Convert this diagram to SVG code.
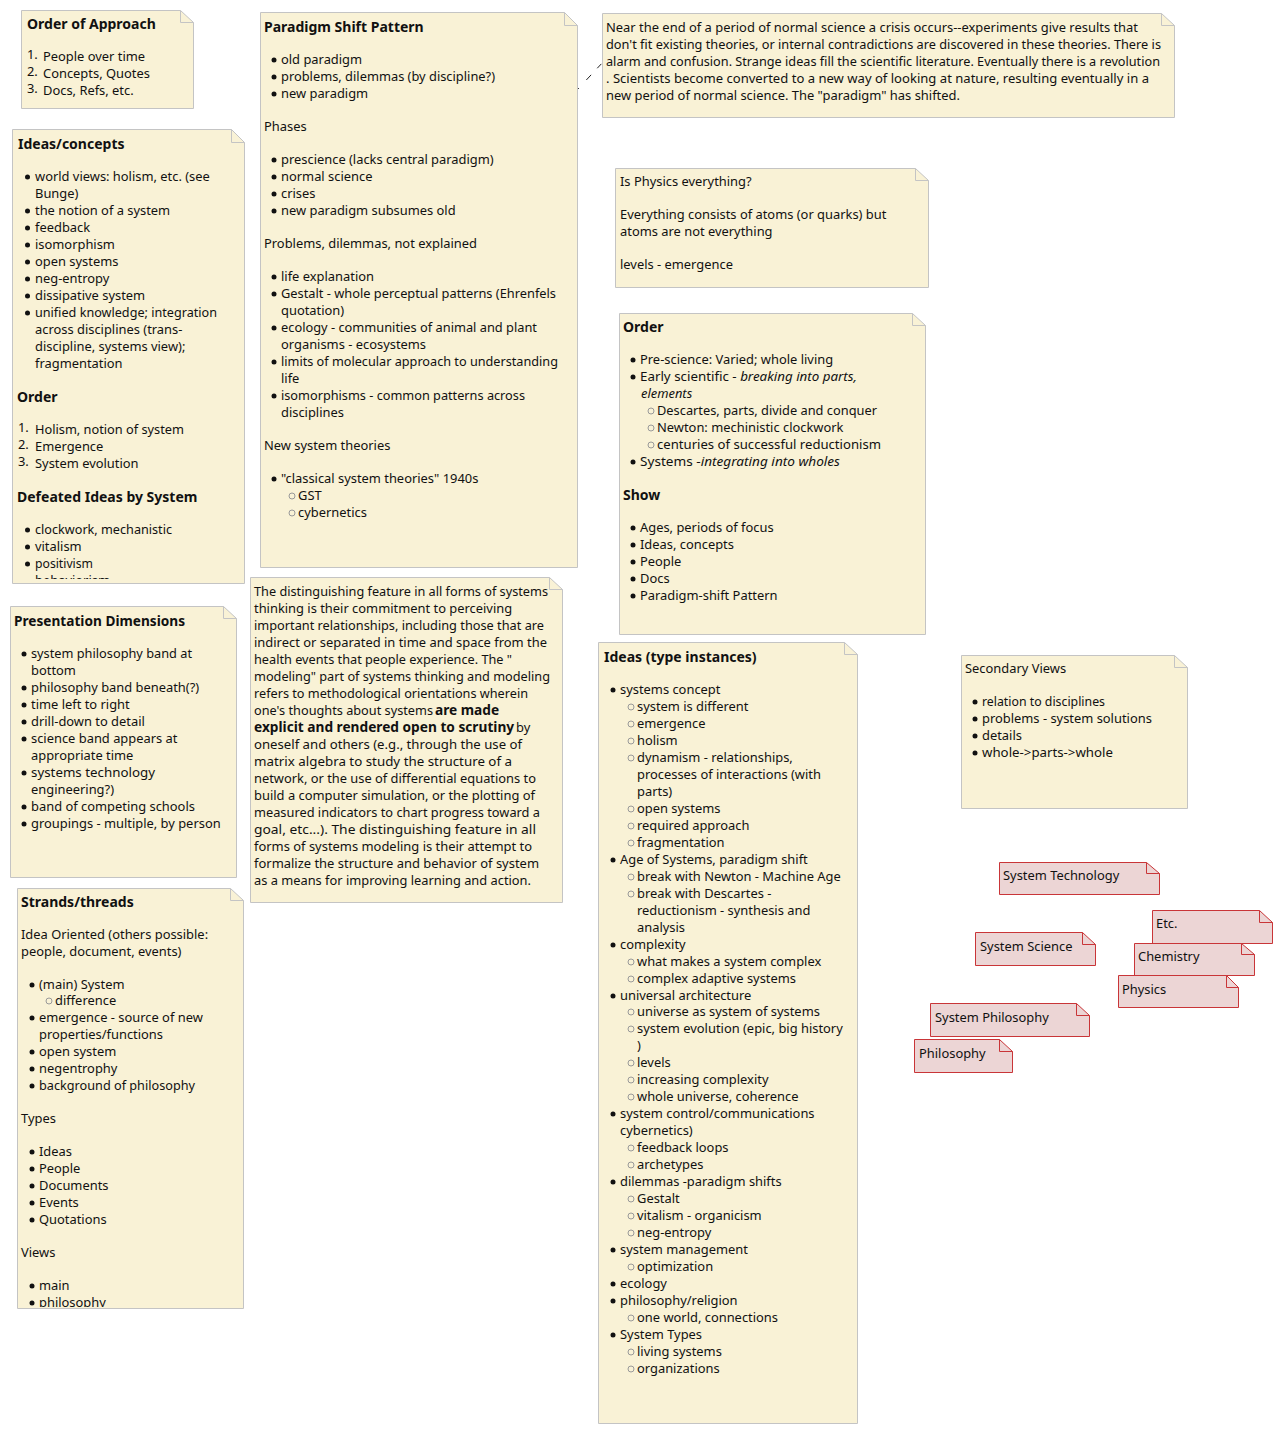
<svg xmlns="http://www.w3.org/2000/svg" width="1283" height="1434" viewBox="0 0 1283 1434">
<style>
text{font-family:"Noto Sans","DejaVu Sans",sans-serif;font-size:12.9px;fill:#111;transform:translateY(-1px)}
.h{font-weight:bold;font-size:14px;transform:none}
.m{font-weight:bold;font-size:13.700px}
.u{font-weight:normal;font-size:12.900px}
.i{font-style:italic}
.n{fill:#f9f2d6;stroke:#c4c4c4;stroke-width:1}
.f{fill:none;stroke:#c4c4c4;stroke-width:1}
.r{fill:#ecd5d5;stroke:#c93538;stroke-width:1}
.rf{fill:none;stroke:#c93538;stroke-width:1}
.b{fill:#111;transform:translateY(-1px)}
.s{fill:none;stroke:#999;stroke-width:1;transform:translateY(-1px)}
</style>
<defs>
<clipPath id="c1"><rect x="12" y="129" width="233" height="450"/></clipPath>
<clipPath id="c2"><rect x="17" y="888" width="227" height="419"/></clipPath>
</defs>
<rect width="1283" height="1434" fill="#fff"/>
<g id="connectors"><path d="M577.500 89.500L604 61" fill="none" stroke="#222" stroke-dasharray="2 11 7 9 6"/></g>

<g id="order-of-approach"><path class="n" d="M21.500 10.500H180.500L193.500 22.500V108.500H21.500Z"/><path class="f" d="M180.500 10.500V22.500H193.500"/>
<text class="h" x="27" y="29">Order of Approach</text>
<text x="27" y="60">1.</text><text x="27" y="77">2.</text><text x="27" y="94">3.</text>
<text x="43" y="62">People over time</text><text x="43" y="79">Concepts, Quotes</text><text x="43" y="96">Docs, Refs, etc.</text></g>

<g id="ideas-concepts"><path class="n" d="M12.500 129.500H231.500L244.500 142.500V583.500H12.500Z"/><path class="f" d="M231.500 129.500V142.500H244.500"/>
<g clip-path="url(#c1)">
<text class="h" x="18" y="149">Ideas/concepts</text>
<circle class="b" cx="27.500" cy="178" r="2.500"/><text x="35" y="182">world views: holism, etc. (see</text>
<text x="35" y="199">Bunge)</text>
<circle class="b" cx="27.500" cy="212" r="2.500"/><text x="35" y="216">the notion of a system</text>
<circle class="b" cx="27.500" cy="229" r="2.500"/><text x="35" y="233">feedback</text>
<circle class="b" cx="27.500" cy="246" r="2.500"/><text x="35" y="250">isomorphism</text>
<circle class="b" cx="27.500" cy="263" r="2.500"/><text x="35" y="267">open systems</text>
<circle class="b" cx="27.500" cy="280" r="2.500"/><text x="35" y="284">neg-entropy</text>
<circle class="b" cx="27.500" cy="297" r="2.500"/><text x="35" y="301">dissipative system</text>
<circle class="b" cx="27.500" cy="314" r="2.500"/><text x="35" y="318" textLength="182" lengthAdjust="spacingAndGlyphs">unified knowledge; integration</text>
<text x="35" y="335">across disciplines (trans-</text>
<text x="35" y="352">discipline, systems view);</text>
<text x="35" y="369">fragmentation</text>
<text class="h" x="17" y="402">Order</text>
<text x="18" y="433">1.</text><text x="18" y="450">2.</text><text x="18" y="467">3.</text>
<text x="35" y="435" textLength="149" lengthAdjust="spacingAndGlyphs">Holism, notion of system</text>
<text x="35" y="452">Emergence</text>
<text x="35" y="469">System evolution</text>
<text class="h" x="17" y="502">Defeated Ideas by System</text>
<circle class="b" cx="27.500" cy="531" r="2.500"/><text x="35" y="535" textLength="137" lengthAdjust="spacingAndGlyphs">clockwork, mechanistic</text>
<circle class="b" cx="27.500" cy="548" r="2.500"/><text x="35" y="552">vitalism</text>
<circle class="b" cx="27.500" cy="565" r="2.500"/><text x="35" y="569" textLength="58" lengthAdjust="spacingAndGlyphs">positivism</text>
<text x="35" y="586">behaviorism</text>
</g></g>

<g id="paradigm-shift"><path class="n" d="M260.500 12.500H564.500L577.500 25.500V567.500H260.500Z"/><path class="f" d="M564.500 12.500V25.500H577.500"/>
<text class="h" x="264" y="32">Paradigm Shift Pattern</text>
<circle class="b" cx="274" cy="61" r="2.500"/><text x="281" y="65">old paradigm</text>
<circle class="b" cx="274" cy="78" r="2.500"/><text x="281" y="82" textLength="214" lengthAdjust="spacingAndGlyphs">problems, dilemmas (by discipline?)</text>
<circle class="b" cx="274" cy="95" r="2.500"/><text x="281" y="99">new paradigm</text>
<text x="264" y="132">Phases</text>
<circle class="b" cx="274" cy="161" r="2.500"/><text x="281" y="165">prescience (lacks central paradigm)</text>
<circle class="b" cx="274" cy="178" r="2.500"/><text x="281" y="182">normal science</text>
<circle class="b" cx="274" cy="195" r="2.500"/><text x="281" y="199">crises</text>
<circle class="b" cx="274" cy="212" r="2.500"/><text x="281" y="216">new paradigm subsumes old</text>
<text x="264" y="249">Problems, dilemmas, not explained</text>
<circle class="b" cx="274" cy="278" r="2.500"/><text x="281" y="282">life explanation</text>
<circle class="b" cx="274" cy="295" r="2.500"/><text x="281" y="299" textLength="275" lengthAdjust="spacingAndGlyphs">Gestalt - whole perceptual patterns (Ehrenfels</text>
<text x="281" y="316">quotation)</text>
<circle class="b" cx="274" cy="329" r="2.500"/><text x="281" y="333" textLength="256" lengthAdjust="spacingAndGlyphs">ecology - communities of animal and plant</text>
<text x="281" y="350">organisms - ecosystems</text>
<circle class="b" cx="274" cy="363" r="2.500"/><text x="281" y="367" textLength="277" lengthAdjust="spacingAndGlyphs">limits of molecular approach to understanding</text>
<text x="281" y="384">life</text>
<circle class="b" cx="274" cy="397" r="2.500"/><text x="281" y="401" textLength="244" lengthAdjust="spacingAndGlyphs">isomorphisms - common patterns across</text>
<text x="281" y="418">disciplines</text>
<text x="264" y="451">New system theories</text>
<circle class="b" cx="274" cy="480" r="2.500"/><text x="281" y="484">"classical system theories" 1940s</text>
<circle class="s" cx="292" cy="497" r="3"/><text x="298" y="501">GST</text>
<circle class="s" cx="292" cy="514" r="3"/><text x="298" y="518">cybernetics</text></g>

<g id="near-the-end"><path class="n" d="M602.500 13.500H1161.500L1174.500 25.500V117.500H602.500Z"/><path class="f" d="M1161.500 13.500V25.500H1174.500"/>
<text x="606" y="33" textLength="532" lengthAdjust="spacingAndGlyphs">Near the end of a period of normal science a crisis occurs--experiments give results that</text>
<text x="606" y="50" textLength="555" lengthAdjust="spacingAndGlyphs">don't fit existing theories, or internal contradictions are discovered in these theories. There is</text>
<text x="606" y="67" textLength="554" lengthAdjust="spacingAndGlyphs">alarm and confusion. Strange ideas fill the scientific literature. Eventually there is a revolution</text>
<text x="606" y="84" textLength="543" lengthAdjust="spacingAndGlyphs">. Scientists become converted to a new way of looking at nature, resulting eventually in a</text>
<text x="606" y="101" textLength="354" lengthAdjust="spacingAndGlyphs">new period of normal science. The "paradigm" has shifted.</text></g>

<g id="is-physics"><path class="n" d="M615.500 168.500H915.500L928.500 180.500V287.500H615.500Z"/><path class="f" d="M915.500 168.500V180.500H928.500"/>
<text x="620" y="187">Is Physics everything?</text>
<text x="620" y="220">Everything consists of atoms (or quarks) but</text>
<text x="620" y="237">atoms are not everything</text>
<text x="620" y="270">levels - emergence</text></g>

<g id="order"><path class="n" d="M619.500 313.500H912.500L925.500 325.500V634.500H619.500Z"/><path class="f" d="M912.500 313.500V325.500H925.500"/>
<text class="h" x="623" y="332">Order</text>
<circle class="b" cx="633" cy="361" r="2.500"/><text x="640" y="365">Pre-science: Varied; whole living</text>
<circle class="b" cx="633" cy="378" r="2.500"/><text x="640" y="382" textLength="217" lengthAdjust="spacingAndGlyphs">Early scientific - <tspan class="i">breaking into parts,</tspan></text>
<text class="i" x="641" y="399">elements</text>
<circle class="s" cx="651" cy="412" r="3"/><text x="657" y="416" textLength="220" lengthAdjust="spacingAndGlyphs">Descartes, parts, divide and conquer</text>
<circle class="s" cx="651" cy="429" r="3"/><text x="657" y="433">Newton: mechinistic clockwork</text>
<circle class="s" cx="651" cy="446" r="3"/><text x="657" y="450" textLength="224" lengthAdjust="spacingAndGlyphs">centuries of successful reductionism</text>
<circle class="b" cx="633" cy="463" r="2.500"/><text x="640" y="467" textLength="200" lengthAdjust="spacingAndGlyphs">Systems -<tspan class="i">integrating into wholes</tspan></text>
<text class="h" x="623" y="500">Show</text>
<circle class="b" cx="633" cy="529" r="2.500"/><text x="640" y="533">Ages, periods of focus</text>
<circle class="b" cx="633" cy="546" r="2.500"/><text x="640" y="550">Ideas, concepts</text>
<circle class="b" cx="633" cy="563" r="2.500"/><text x="640" y="567">People</text>
<circle class="b" cx="633" cy="580" r="2.500"/><text x="640" y="584">Docs</text>
<circle class="b" cx="633" cy="597" r="2.500"/><text x="640" y="601">Paradigm-shift Pattern</text></g>

<g id="presentation-dimensions"><path class="n" d="M10.500 606.500H223.500L236.500 618.500V877.500H10.500Z"/><path class="f" d="M223.500 606.500V618.500H236.500"/>
<text class="h" x="14" y="626" textLength="171" lengthAdjust="spacingAndGlyphs">Presentation Dimensions</text>
<circle class="b" cx="24" cy="655" r="2.500"/><text x="31" y="659" textLength="161" lengthAdjust="spacingAndGlyphs">system philosophy band at</text>
<text x="31" y="676">bottom</text>
<circle class="b" cx="24" cy="689" r="2.500"/><text x="31" y="693">philosophy band beneath(?)</text>
<circle class="b" cx="24" cy="706" r="2.500"/><text x="31" y="710">time left to right</text>
<circle class="b" cx="24" cy="723" r="2.500"/><text x="31" y="727">drill-down to detail</text>
<circle class="b" cx="24" cy="740" r="2.500"/><text x="31" y="744">science band appears at</text>
<text x="31" y="761">appropriate time</text>
<circle class="b" cx="24" cy="774" r="2.500"/><text x="31" y="778" textLength="124" lengthAdjust="spacingAndGlyphs">systems technology</text>
<text x="31" y="795">engineering?)</text>
<circle class="b" cx="24" cy="808" r="2.500"/><text x="31" y="812">band of competing schools</text>
<circle class="b" cx="24" cy="825" r="2.500"/><text x="31" y="829">groupings - multiple, by person</text></g>

<g id="distinguishing-feature"><path class="n" d="M250.500 577.500H549.500L562.500 589.500V902.500H250.500Z"/><path class="f" d="M549.500 577.500V589.500H562.500"/>
<text x="254" y="597" textLength="294" lengthAdjust="spacingAndGlyphs">The distinguishing feature in all forms of systems</text>
<text x="254" y="614">thinking is their commitment to perceiving</text>
<text x="254" y="631" textLength="290" lengthAdjust="spacingAndGlyphs">important relationships, including those that are</text>
<text x="254" y="648" textLength="293" lengthAdjust="spacingAndGlyphs">indirect or separated in time and space from the</text>
<text x="254" y="665" textLength="258" lengthAdjust="spacingAndGlyphs">health events that people experience. The "</text>
<text x="254" y="682" textLength="296" lengthAdjust="spacingAndGlyphs">modeling" part of systems thinking and modeling</text>
<text x="254" y="699" textLength="274" lengthAdjust="spacingAndGlyphs">refers to methodological orientations wherein</text>
<text x="254" y="716" textLength="179" lengthAdjust="spacingAndGlyphs">one's thoughts about systems</text><text class="m" x="435" y="716">are made</text>
<text class="m" x="254" y="733">explicit and rendered open to scrutiny<tspan class="u" x="516">by</tspan></text>
<text x="254" y="750" textLength="268" lengthAdjust="spacingAndGlyphs">oneself and others (e.g., through the use of</text>
<text x="254" y="767" textLength="258" lengthAdjust="spacingAndGlyphs">matrix algebra to study the structure of a</text>
<text x="254" y="784" textLength="282" lengthAdjust="spacingAndGlyphs">network, or the use of differential equations to</text>
<text x="254" y="801" textLength="281" lengthAdjust="spacingAndGlyphs">build a computer simulation, or the plotting of</text>
<text x="254" y="818" textLength="286" lengthAdjust="spacingAndGlyphs">measured indicators to chart progress toward a</text>
<text x="254" y="835" textLength="282" lengthAdjust="spacingAndGlyphs">goal, etc...). The distinguishing feature in all</text>
<text x="254" y="852" textLength="278" lengthAdjust="spacingAndGlyphs">forms of systems modeling is their attempt to</text>
<text x="254" y="869" textLength="285" lengthAdjust="spacingAndGlyphs">formalize the structure and behavior of system</text>
<text x="254" y="886" textLength="277" lengthAdjust="spacingAndGlyphs">as a means for improving learning and action.</text></g>

<g id="ideas-type-instances"><path class="n" d="M598.500 642.500H844.500L857.500 654.500V1423.500H598.500Z"/><path class="f" d="M844.500 642.500V654.500H857.500"/>
<text class="h" x="604" y="662">Ideas (type instances)</text>
<circle class="b" cx="613" cy="691" r="2.500"/><text x="620" y="695">systems concept</text>
<circle class="s" cx="631" cy="708" r="3"/><text x="637" y="712">system is different</text>
<circle class="s" cx="631" cy="725" r="3"/><text x="637" y="729">emergence</text>
<circle class="s" cx="631" cy="742" r="3"/><text x="637" y="746">holism</text>
<circle class="s" cx="631" cy="759" r="3"/><text x="637" y="763">dynamism - relationships,</text>
<text x="637" y="780">processes of interactions (with</text>
<text x="637" y="797">parts)</text>
<circle class="s" cx="631" cy="810" r="3"/><text x="637" y="814">open systems</text>
<circle class="s" cx="631" cy="827" r="3"/><text x="637" y="831">required approach</text>
<circle class="s" cx="631" cy="844" r="3"/><text x="637" y="848">fragmentation</text>
<circle class="b" cx="613" cy="861" r="2.500"/><text x="620" y="865">Age of Systems, paradigm shift</text>
<circle class="s" cx="631" cy="878" r="3"/><text x="637" y="882">break with Newton - Machine Age</text>
<circle class="s" cx="631" cy="895" r="3"/><text x="637" y="899">break with Descartes -</text>
<text x="637" y="916">reductionism - synthesis and</text>
<text x="637" y="933">analysis</text>
<circle class="b" cx="613" cy="946" r="2.500"/><text x="620" y="950">complexity</text>
<circle class="s" cx="631" cy="963" r="3"/><text x="637" y="967">what makes a system complex</text>
<circle class="s" cx="631" cy="980" r="3"/><text x="637" y="984">complex adaptive systems</text>
<circle class="b" cx="613" cy="997" r="2.500"/><text x="620" y="1001">universal architecture</text>
<circle class="s" cx="631" cy="1013" r="3"/><text x="637" y="1017">universe as system of systems</text>
<circle class="s" cx="631" cy="1030" r="3"/><text x="637" y="1034">system evolution (epic, big history</text>
<text x="637" y="1051">)</text>
<circle class="s" cx="631" cy="1064" r="3"/><text x="637" y="1068">levels</text>
<circle class="s" cx="631" cy="1081" r="3"/><text x="637" y="1085">increasing complexity</text>
<circle class="s" cx="631" cy="1098" r="3"/><text x="637" y="1102">whole universe, coherence</text>
<circle class="b" cx="613" cy="1115" r="2.500"/><text x="620" y="1119">system control/communications</text>
<text x="620" y="1136">cybernetics)</text>
<circle class="s" cx="631" cy="1149" r="3"/><text x="637" y="1153">feedback loops</text>
<circle class="s" cx="631" cy="1166" r="3"/><text x="637" y="1170">archetypes</text>
<circle class="b" cx="613" cy="1183" r="2.500"/><text x="620" y="1187">dilemmas -paradigm shifts</text>
<circle class="s" cx="631" cy="1200" r="3"/><text x="637" y="1204">Gestalt</text>
<circle class="s" cx="631" cy="1217" r="3"/><text x="637" y="1221">vitalism - organicism</text>
<circle class="s" cx="631" cy="1234" r="3"/><text x="637" y="1238">neg-entropy</text>
<circle class="b" cx="613" cy="1251" r="2.500"/><text x="620" y="1255">system management</text>
<circle class="s" cx="631" cy="1268" r="3"/><text x="637" y="1272">optimization</text>
<circle class="b" cx="613" cy="1285" r="2.500"/><text x="620" y="1289">ecology</text>
<circle class="b" cx="613" cy="1302" r="2.500"/><text x="620" y="1306">philosophy/religion</text>
<circle class="s" cx="631" cy="1319" r="3"/><text x="637" y="1323">one world, connections</text>
<circle class="b" cx="613" cy="1336" r="2.500"/><text x="620" y="1340">System Types</text>
<circle class="s" cx="631" cy="1353" r="3"/><text x="637" y="1357">living systems</text>
<circle class="s" cx="631" cy="1370" r="3"/><text x="637" y="1374">organizations</text></g>

<g id="secondary-views"><path class="n" d="M961.500 655.500H1174.500L1187.500 667.500V808.500H961.500Z"/><path class="f" d="M1174.500 655.500V667.500H1187.500"/>
<text x="965" y="674">Secondary Views</text>
<circle class="b" cx="975" cy="703" r="2.500"/><text x="982" y="707" textLength="123" lengthAdjust="spacingAndGlyphs">relation to disciplines</text>
<circle class="b" cx="975" cy="720" r="2.500"/><text x="982" y="724">problems - system solutions</text>
<circle class="b" cx="975" cy="737" r="2.500"/><text x="982" y="741">details</text>
<circle class="b" cx="975" cy="754" r="2.500"/><text x="982" y="758" textLength="131" lengthAdjust="spacingAndGlyphs">whole-&gt;parts-&gt;whole</text></g>

<g id="strands-threads"><path class="n" d="M17.500 888.500H230.500L243.500 900.500V1308.500H17.500Z"/><path class="f" d="M230.500 888.500V900.500H243.500"/>
<g clip-path="url(#c2)">
<text class="h" x="21" y="907">Strands/threads</text>
<text x="21" y="940">Idea Oriented (others possible:</text>
<text x="21" y="957">people, document, events)</text>
<circle class="b" cx="32" cy="986" r="2.500"/><text x="39" y="990">(main) System</text>
<circle class="s" cx="49" cy="1002" r="3"/><text x="55" y="1006">difference</text>
<circle class="b" cx="32" cy="1019" r="2.500"/><text x="39" y="1023">emergence - source of new</text>
<text x="39" y="1040">properties/functions</text>
<circle class="b" cx="32" cy="1053" r="2.500"/><text x="39" y="1057">open system</text>
<circle class="b" cx="32" cy="1070" r="2.500"/><text x="39" y="1074">negentrophy</text>
<circle class="b" cx="32" cy="1087" r="2.500"/><text x="39" y="1091" textLength="156" lengthAdjust="spacingAndGlyphs">background of philosophy</text>
<text x="21" y="1124">Types</text>
<circle class="b" cx="32" cy="1153" r="2.500"/><text x="39" y="1157">Ideas</text>
<circle class="b" cx="32" cy="1170" r="2.500"/><text x="39" y="1174">People</text>
<circle class="b" cx="32" cy="1187" r="2.500"/><text x="39" y="1191">Documents</text>
<circle class="b" cx="32" cy="1204" r="2.500"/><text x="39" y="1208">Events</text>
<circle class="b" cx="32" cy="1221" r="2.500"/><text x="39" y="1225">Quotations</text>
<text x="21" y="1258">Views</text>
<circle class="b" cx="32" cy="1287" r="2.500"/><text x="39" y="1291">main</text>
<circle class="b" cx="32" cy="1304" r="2.500"/><text x="39" y="1308">philosophy</text>
</g></g>

<g id="system-technology"><path class="r" d="M999.500 862.500H1146.500L1159.500 873.500V894.500H999.500Z"/><path class="rf" d="M1146.500 862.500V873.500H1159.500"/><text x="1003" y="881">System Technology</text></g>
<g id="system-science"><path class="r" d="M975.500 932.500H1082.500L1095.500 944.500V965.500H975.500Z"/><path class="rf" d="M1082.500 932.500V944.500H1095.500"/><text x="980" y="952">System Science</text></g>
<g id="etc"><path class="r" d="M1152.500 910.500H1259.500L1272.500 922.500V943.500H1152.500Z"/><path class="rf" d="M1259.500 910.500V922.500H1272.500"/><text x="1156" y="929">Etc.</text></g>
<g id="chemistry"><path class="r" d="M1134.500 943.500H1241.500L1254.500 954.500V975.500H1134.500Z"/><path class="rf" d="M1241.500 943.500V954.500H1254.500"/><text x="1138" y="962">Chemistry</text></g>
<g id="physics"><path class="r" d="M1118.500 975.500H1226.500L1238.500 987.500V1007.500H1118.500Z"/><path class="rf" d="M1226.500 975.500V987.500H1238.500"/><text x="1122" y="995">Physics</text></g>
<g id="system-philosophy"><path class="r" d="M930.500 1003.500H1076.500L1089.500 1015.500V1036.500H930.500Z"/><path class="rf" d="M1076.500 1003.500V1015.500H1089.500"/><text x="935" y="1023">System Philosophy</text></g>
<g id="philosophy"><path class="r" d="M914.500 1039.500H999.500L1012.500 1051.500V1072.500H914.500Z"/><path class="rf" d="M999.500 1039.500V1051.500H1012.500"/><text x="919" y="1059">Philosophy</text></g>
</svg>
